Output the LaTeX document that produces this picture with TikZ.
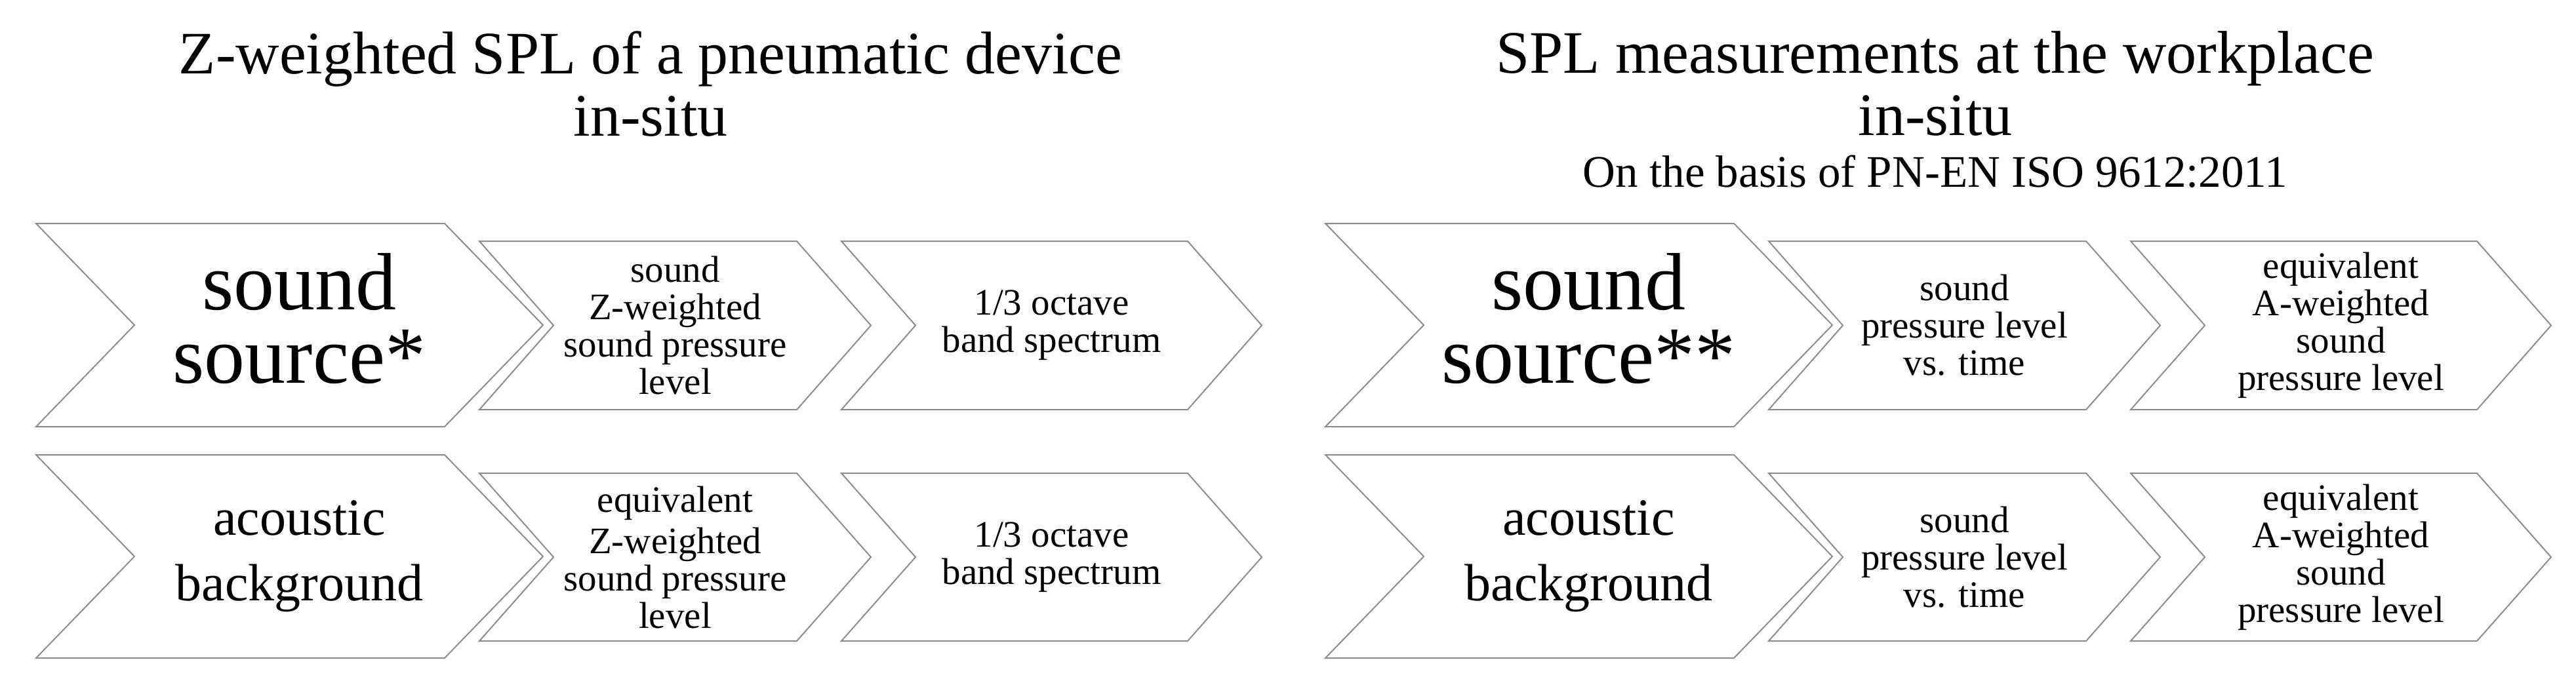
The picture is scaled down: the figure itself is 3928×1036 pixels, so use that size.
\documentclass[tikz,border=0pt]{standalone}
\usepackage{fontspec}
\setmainfont{Liberation Serif}
\begin{document}
\begin{tikzpicture}[x=1pt,y=-1pt,
  chev/.style={draw=black!45,line width=2pt,line join=miter},
  big/.style={align=center,font=\fontsize{124}{112}\selectfont},
  bigb/.style={align=center,font=\fontsize{80}{100}\selectfont},
  small/.style={align=center,font=\fontsize{57}{57}\selectfont},
  ttl/.style={align=center,font=\fontsize{92}{95}\selectfont}]
\useasboundingbox (0,0) rectangle (3928,1036);
% chevron macro: left x, top y, right tip x, bottom y, point depth
\newcommand{\mychev}[6]{%
  \draw[chev] (#1,#2) -- ({#3-#5},#2) -- (#3,{(#2+#4)/2}) -- ({#3-#5},#4) -- (#1,#4) -- ({#1+#5},{(#2+#4)/2}) -- cycle;
  \coordinate (#6) at ({(#1+#3)/2},{(#2+#4)/2});}
\foreach \o/\s in {0/L,1966/R}{
  \mychev{55+\o}{341}{828+\o}{651}{150}{\s a}
  \mychev{731+\o}{368}{1328+\o}{625}{113}{\s b}
  \mychev{1283+\o}{368}{1924+\o}{625}{113}{\s c}
  \mychev{55+\o}{694}{828+\o}{1004}{150}{\s d}
  \mychev{731+\o}{722}{1328+\o}{978}{113}{\s e}
  \mychev{1283+\o}{722}{1924+\o}{978}{113}{\s f}
}
\node[big] (t1) at ([xshift=15pt,yshift=10pt]La) {sound\\source*};
\node[small] (t2) at (Lb) {sound\\Z-weighted\\sound pressure\\level};
\node[small] (t3) at (Lc) {1/3 octave\\band spectrum};
\node[bigb] (t4) at ([xshift=15pt]Ld) {acoustic\\background};
\node[small] (t5) at (Le) {equivalent\\[6pt]Z-weighted\\sound pressure\\level};
\node[small] (t6) at (Lf) {1/3 octave\\band spectrum};
\node[big] (u1) at ([xshift=15pt,yshift=10pt]Ra) {sound\\source**};
\node[small] (u2) at (Rb) {sound\\pressure level\\vs. time};
\node[small] (u3) at (Rc) {equivalent\\A-weighted\\sound\\pressure level};
\node[bigb] (u4) at ([xshift=15pt]Rd) {acoustic\\background};
\node[small] (u5) at (Re) {sound\\pressure level\\vs. time};
\node[small] (u6) at (Rf) {equivalent\\A-weighted\\sound\\pressure level};
\node[ttl] (h1) at (992,128) {Z-weighted SPL of a pneumatic device\\in-situ};
\node[ttl] (h2) at (2951,128) {SPL measurements at the workplace\\in-situ};
\node[font=\fontsize{69}{70}\selectfont] (h3) at (2951,262) {On the basis of PN-EN ISO 9612:2011};
\end{tikzpicture}
\end{document}
